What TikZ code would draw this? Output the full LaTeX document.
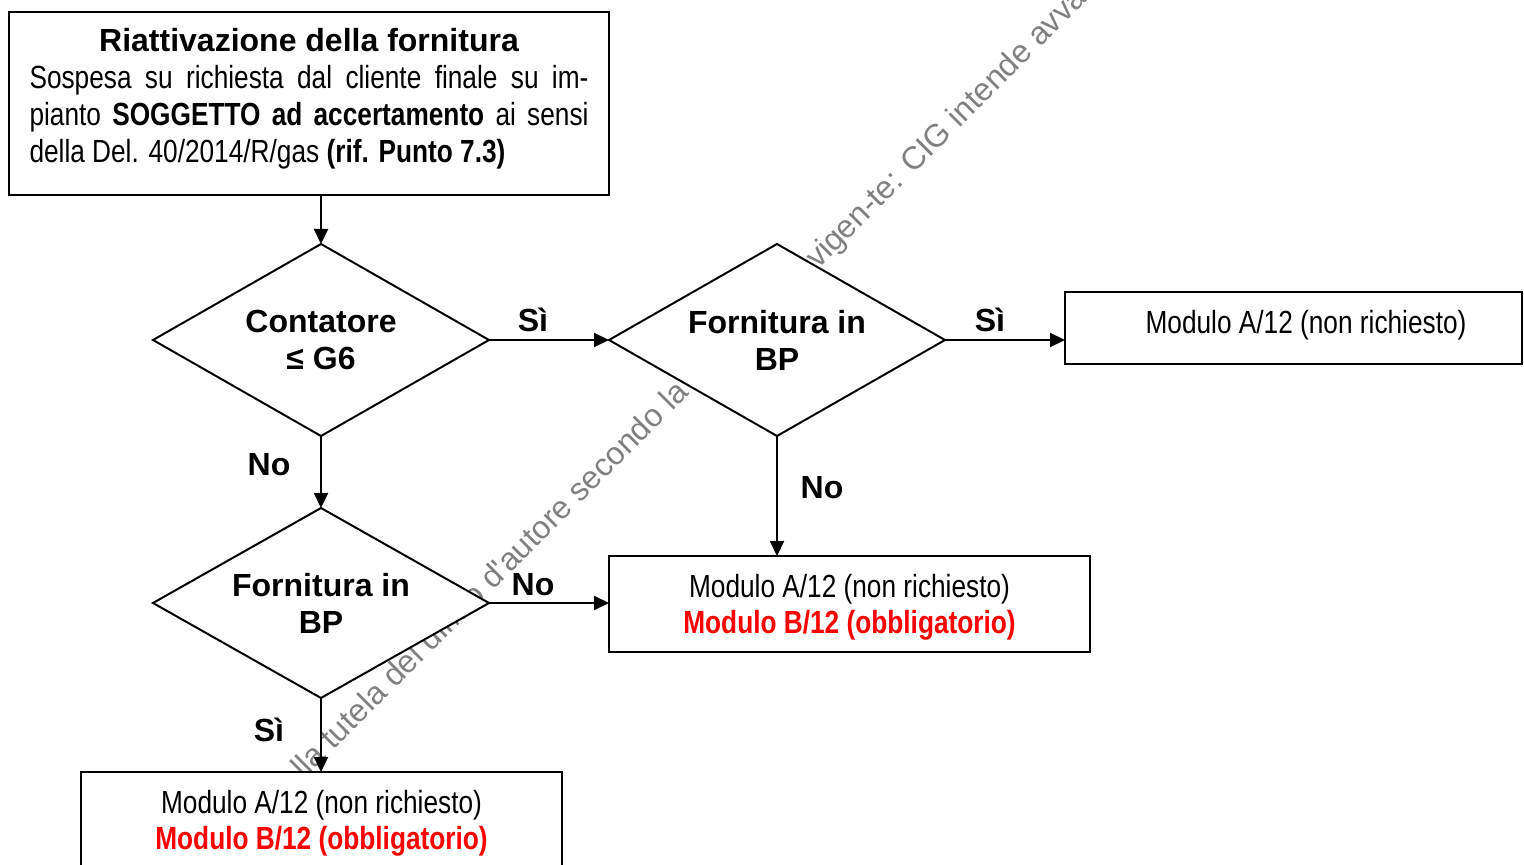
\documentclass[tikz,border=0pt]{standalone}
\usepackage{fontspec}
\setmainfont{Liberation Sans}
\newfontfamily\narrowfont{Liberation Sans}[FakeStretch=0.82]
\usetikzlibrary{shapes.geometric,arrows.meta}
\definecolor{wmgray}{RGB}{128,128,128}
\definecolor{modred}{RGB}{255,0,0}
\begin{document}
\begin{tikzpicture}[x=0.5pt,y=-0.5pt,
  every node/.style={inner sep=0pt, outer sep=0pt},
  fs/.style={font=\fontsize{16pt}{18.5pt}\selectfont},
  boxn/.style={draw, line width=1pt, fill=white, rectangle},
  dec/.style={draw, line width=1pt, fill=white, diamond, aspect=1.75, minimum width=168pt, minimum height=96pt,
    font=\fontsize{16pt}{18.5pt}\selectfont\bfseries, align=center},
  lab/.style={font=\fontsize{16pt}{18.5pt}\selectfont\bfseries},
  mtxt/.style={font=\fontsize{16pt}{18pt}\selectfont\narrowfont, align=center},
  conn/.style={line width=1pt, -{Triangle[length=7.5pt,width=7pt]}},
  wm/.style={font=\fontsize{16pt}{18pt}\selectfont, text=wmgray, rotate=45}
]
\useasboundingbox (0,0) rectangle (1524,865);

% watermark (behind everything)
\node[wm, anchor=base east] (wm1) at (690,394) {alla tutela del diritto d\textquotesingle autore secondo la};
\node[wm, anchor=base west] (wm2) at (818,270) {vigen-te: CIG intende avvalersi};

% top box
\node[boxn, minimum width=300pt, minimum height=91.5pt] (top) at (309,103.5) {};
\node[fs, text width=279.5pt, align=justify] (toptxt) at (309,99)
  {\makebox[279.5pt][c]{\bfseries Riattivazione della fornitura}\par
   \narrowfont Sospesa su richiesta dal cliente finale su im-\linebreak
   pianto \textbf{SOGGETTO ad accertamento} ai sensi\linebreak
   della Del. 40/2014/R/gas \textbf{(rif. Punto 7.3)}};

% decisions
\node[dec] (d1) at (321,340) {Contatore\\≤ G6};
\node[dec] (d2) at (777,340) {Fornitura in\\BP};
\node[dec, minimum height=95pt] (d3) at (321,603) {Fornitura in\\BP};

% result boxes
\node[boxn, minimum width=228.5pt, minimum height=36pt] (r1) at (1293.5,328) {};
\node[mtxt] (r1t) at (1306,325) {Modulo A/12 (non richiesto)};
\node[boxn, minimum width=240.5pt, minimum height=48pt] (m) at (849.5,604) {};
\node[mtxt] (mt) at (849.5,607)
  {Modulo A/12 (non richiesto)\\\textcolor{modred}{\bfseries Modulo B/12 (obbligatorio)}};
\node[boxn, minimum width=240.5pt, minimum height=48pt] (b) at (321.5,820) {};
\node[mtxt] (bt) at (321.5,823)
  {Modulo A/12 (non richiesto)\\\textcolor{modred}{\bfseries Modulo B/12 (obbligatorio)}};

% connectors
\draw[conn] (d1.north |- top.south) -- (d1.north);
\draw[conn] (d1.east) -- (d2.west);
\draw[conn] (d2.east) -- (d2.east -| r1.west);
\draw[conn] (d2.south) -- (d2.south |- m.north);
\draw[conn] (d1.south) -- (d3.north);
\draw[conn] (d3.east) -- (d3.east -| m.west);
\draw[conn] (d3.south) -- (d3.south |- b.north);

% labels
\node[lab] (l1) at (533,320) {Sì};
\node[lab] (l2) at (990,320) {Sì};
\node[lab] (l3) at (269,465) {No};
\node[lab] (l4) at (822,488) {No};
\node[lab] (l5) at (533,585) {No};
\node[lab] (l6) at (269,730) {Sì};
\end{tikzpicture}
\end{document}
